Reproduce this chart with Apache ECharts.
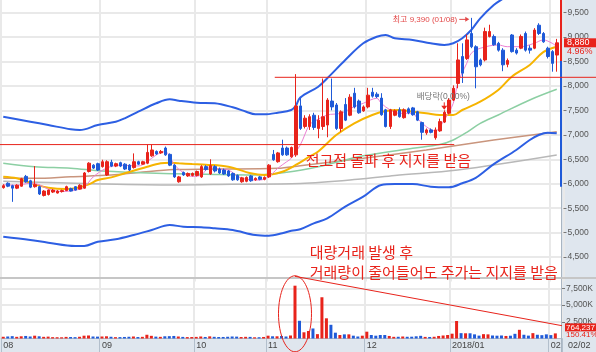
<!DOCTYPE html>
<html><head><meta charset="utf-8"><title>chart</title>
<script src="https://cdn.jsdelivr.net/npm/echarts@6.0.0/dist/echarts.min.js"></script>
<style>html,body{margin:0;padding:0;background:#fff;}#chart{width:596px;height:352px;}</style>
</head><body><div id="chart"></div>
<script>
// ---------- categories (trading days) ----------
const augDays=[1,2,3,4,7,8,9,10,11,14,16,17,18,21,22,23,24,25,28,29,30,31];
const sepDays=[1,4,5,6,7,8,11,12,13,14,15,18,19,20,21,22,25,26,27,28,29];
const octDays=[10,11,12,13,16,17,18,19,20,23,24,25,26,27,30,31];
const novDays=[1,2,3,6,7,8,9,10,13,14,15,16,17,20,21,22,23,24,27,28,29,30];
const decDays=[1,4,5,6,7,8,11,12,13,14,15,18,19,20,21,22,26,27,28];
const janDays=[2,3,4,5,8,9,10,11,12,15,16,17,18,19,22,23,24,25,26,29,30,31];
const febDays=[1,2];
const monthTickLabels={'2017/08':'08','2017/09':'09','2017/10':'10','2017/11':'11','2017/12':'12','2018/01':'2018/01','2018/02':'02'};

// ---------- price candles [open, close, low, high] ----------
const candles=[
[5920,5960,5900,5990],[6010,5950,5930,6030],[5960,5910,5630,5980],[5910,5970,5890,5990],[5950,6100,5940,6120],
[6150,6040,6020,6180],[6060,5930,5910,6080],[5940,5980,5920,6360],[5940,5790,5770,5960],[5760,5850,5740,5870],
[5780,5870,5760,5880],[5830,5870,5810,5890],[5810,5850,5800,5870],[5840,5860,5820,5880],[5860,5940,5850,5960],
[5900,5850,5840,5920],[5940,5870,5860,5950],[5890,5970,5880,5990],[5910,6220,5900,6240],[6250,6420,6230,6440],
[6380,6320,6300,6400],[6410,6280,6260,6430],
[6350,6450,6330,6490],[6180,6450,6160,6480],[6440,6360,6340,6490],[6360,6410,6340,6430],[6430,6360,6340,6450],
[6400,6300,6280,6420],[6380,6280,6260,6400],[6330,6450,6310,6620],[6450,6400,6380,6470],[6400,6450,6390,6470],
[6420,6640,6400,6800],[6570,6690,6550,6800],[6660,6610,6590,6680],[6630,6660,6610,6690],[6730,6590,6570,6760],
[6600,6380,6360,6620],[6380,6140,6120,6400],[6040,6140,6020,6160],[6230,6180,6160,6250],[6160,6210,6140,6230],
[6170,6210,6150,6230],
[6170,6250,6150,6270],[6140,6350,6120,6380],[6350,6290,6270,6380],[6200,6370,6180,6500],[6350,6260,6230,6380],
[6300,6220,6200,6330],[6280,6200,6180,6310],[6260,6160,6140,6280],[6210,6080,6060,6230],[6170,6080,6060,6190],
[6040,6120,6020,6140],[6050,6130,6030,6150],[6160,6060,6040,6180],[6080,6110,6060,6130],[6140,6090,6070,6160],
[6090,6130,6070,6150],
[6140,6380,6120,6400],[6600,6490,6470,6690],[6450,6630,6430,6650],[6730,6590,6570,6900],[6730,6590,6570,6760],
[6550,6740,6530,6760],[6590,7590,6550,8240],[7590,7130,7100,7750],[7170,7340,7130,7400],[7170,7370,7100,7420],
[7400,7150,7100,7450],[7130,7300,6930,7400],[7170,7370,7100,8150],[7200,7710,6950,7750],[7690,7570,7500,8150],
[7610,7130,7100,7650],[7130,7470,7060,7500],[7620,7300,7280,7750],[7400,7770,7380,7830],[7850,7570,7540,7960],
[7690,7450,7430,7720],[7490,7570,7470,7600],
[7570,7810,7540,7960],[7870,7790,7760,7960],[7830,7780,7750,7870],[7750,7410,7390,7850],[7510,7170,7150,7530],
[7170,7510,7120,7530],[7400,7490,7380,7520],[7510,7370,7350,7560],[7350,7510,7330,7540],[7530,7450,7420,7560],
[7550,7410,7390,7570],[7470,7300,7280,7490],[7250,7050,6900,7270],[7040,7100,7000,7130],[7100,7050,7030,7130],
[6940,7100,6900,7150],[7080,7270,7060,7330],[7260,7460,7240,7500],[7440,7710,7420,7750],
[7710,7950,7690,8010],[8050,8530,7950,8870],[8600,8260,8060,8870],[8560,8940,8530,9050],[9070,8800,8770,9390],
[8800,8390,7950,8830],[8530,8430,8400,8560],[8530,9110,8500,9190],[9010,9110,8990,9250],[9010,8840,8820,9050],
[8870,8730,8700,8900],[8730,8430,8300,8770],[8440,8520,8380,8560],[9040,8700,8680,9060],[8730,8670,8640,8770],
[8770,9010,8750,9050],[9070,8730,8700,9110],[8770,8730,8660,8830],[8770,9140,8750,9180],[9240,9070,9040,9280],
[9070,8900,8880,9100],[8770,8600,8560,8800],
[8700,8460,8290,8730],[8630,8880,8290,8960]
];

// ---------- volume (thousand shares) ----------
const volumesK=[
260,300,350,250,330,380,300,420,330,250, 280,200,190,180,240,220,200,260,420,450,
300,280,300,330,260,200,210,230,260,300, 220,250,560,400,280,250,330,350,380,300,
240,210,220,240,300,230,320,250,220,230, 260,300,280,220,250,240,180,190,230,420,
330,330,380,300,450,7900,2650,930,1120,1500, 650,6170,3020,2050,870,520,620,620,420,300,
420,1020,520,420,520,520,380,250,260,300, 260,270,330,400,240,230,260,380,450,520,
720,2620,800,780,780,620,430,650,620,450, 420,450,380,420,700,1300,560,430,800,560,
500,620,508.1,764.237
];

// ---------- indicator lines, [day index, price] ----------
const bbUpper=[[0,7370],[6,7268],[10,7200],[15,7113],[17,7098],[21,7200],[25,7268],[27,7337],[30,7472],[34,7644],[37,7726],[39,7697],[43,7656],[47,7644],[51,7562],[54,7472],[56,7419],[58,7419],[61,7452],[64,7507],[65,7590],[66,7760],[70,7983],[72,8155],[76,8529],[80,8870],[83,9005],[85,9040],[87,8973],[91,8938],[95,8870],[98,8836],[100,8870],[102,8973],[104,9142],[106,9381],[109,9653],[111,9780],[113,9900]];
const bbLower=[[0,4917],[6,4850],[10,4795],[16,4728],[18,4728],[21,4815],[25,4864],[29,4952],[33,5054],[37,5157],[40,5122],[44,5110],[47,5089],[51,5054],[56,4952],[59,4938],[62,4987],[64,5040],[66,5070],[69,5191],[72,5293],[76,5531],[80,5735],[84,5974],[87,5995],[91,5995],[95,5940],[99,5927],[102,6009],[105,6120],[109,6400],[114,6690],[117,6894],[119,6996],[121,7043],[123,7031]];
const ma5=[[0,5980],[3,5970],[6,6010],[8,5980],[10,5890],[13,5840],[16,5870],[18,5930],[20,6140],[23,6320],[26,6380],[30,6362],[32,6450],[34,6590],[36,6655],[37,6560],[38,6390],[40,6230],[42,6150],[44,6180],[46,6350],[48,6300],[50,6280],[53,6111],[57,6076],[59,6144],[61,6316],[63,6450],[64,6520],[66,6792],[68,7200],[69,7268],[72,7405],[75,7440],[78,7575],[80,7644],[83,7746],[84,7644],[86,7507],[88,7440],[91,7440],[92,7337],[94,7166],[96,7080],[98,7303],[100,7644],[101,8053],[103,8462],[104,8666],[106,8768],[110,8836],[112,8801],[115,8801],[118,8870],[120,8938],[122,8870],[123,8801]];
const ma20=[[0,6144],[3,6111],[7,5988],[10,5919],[14,5892],[16,5907],[19,5988],[21,6076],[24,6130],[27,6213],[32,6348],[35,6418],[37,6430],[39,6418],[42,6403],[45,6390],[50,6348],[55,6213],[58,6179],[62,6246],[65,6383],[68,6553],[70,6660],[74,6996],[78,7235],[82,7405],[85,7487],[88,7507],[91,7472],[94,7440],[97,7405],[100,7405],[102,7507],[106,7677],[110,7916],[113,8188],[117,8427],[120,8690],[123,8800]];
const ma60=[[0,6418],[7,6348],[15,6316],[22,6260],[34,6213],[45,6193],[56,6179],[63,6234],[70,6348],[80,6570],[91,6724],[97,6800],[100,6894],[103,7050],[106,7235],[110,7405],[117,7712],[123,7930]];
const ma120=[[0,6111],[7,6111],[15,6144],[24,6179],[30,6230],[38,6290],[47,6300],[61,6316],[66,6370],[80,6520],[94,6690],[109,6894],[123,7064]];
const ma240=[[0,6050],[20,6000],[38,5974],[51,5988],[66,6005],[80,6100],[87,6170],[101,6281],[123,6587]];

// ---------- annotation values ----------
const prevHighLevel=6800, prevHighEndIdx=100;
const breakoutLevel=8175, breakoutStartIdx=60;
const spikeIdx=65, volTrendStartK=9300, volTrendEndK=2100;
const peakIdx=104, peakPrice=9390, peakLabel='최고 9,390 (01/08)';
const exDivIdx=98, exDivLabel='배당락(0.00%)';
const rangeTop=9755, rangeMid=8509, rangeLow=5940;
const note1='전고점 돌파 후 지지를 받음', note1Price=6485;
const note2='대량거래 발생 후', note2Price=4590;
const note3='거래량이 줄어들어도 주가는 지지를 받음', note3Price=4200;
const lastDateLabel='02/02';

// ---------- build ----------
const dates=[], monthStart=[];
[['2017','08',augDays],['2017','09',sepDays],['2017','10',octDays],['2017','11',novDays],['2017','12',decDays],['2018','01',janDays],['2018','02',febDays]]
.forEach(([y,m,days])=>days.forEach((d,k)=>{dates.push(y+'/'+m+'/'+String(d).padStart(2,'0'));monthStart.push(k===0);}));
const axisCats=dates.concat(['']); monthStart.push(false);

const RED='#e8231b', BLUE='#1f5ad8';
const SANS="'Liberation Sans',Arial,sans-serif";
const KR_FONT="'Noto Sans CJK KR','Noto Sans',sans-serif";
const isMonth=(i)=>!!monthStart[i];
const gridColor='#e9e9e9';

function lineSeries(data,color,width){
  return {type:'line',xAxisIndex:0,yAxisIndex:0,data:data,smooth:0.35,showSymbol:false,symbol:'none',silent:true,z:2,
    lineStyle:{color:color,width:width}};
}

const chart=echarts.init(document.getElementById('chart'),null,{renderer:'canvas'});
const option={
  animation:false,
  backgroundColor:'#ffffff',
  grid:[{left:1,top:0,width:562.5,height:281.6},{left:1,top:278,width:562.5,height:60.5}],
  xAxis:[
    {type:'category',gridIndex:0,data:axisCats,boundaryGap:true,axisLine:{show:false},axisTick:{show:false},axisLabel:{show:false},
     splitLine:{show:true,interval:isMonth,lineStyle:{color:gridColor,width:2}}},
    {type:'category',gridIndex:1,data:axisCats,boundaryGap:true,
     axisLine:{show:true,lineStyle:{color:'#b3bfcc',width:1}},
     axisTick:{show:true,interval:isMonth,length:14,lineStyle:{color:'#b3bfcc'}},
     axisLabel:{show:true,interval:isMonth,align:'left',margin:3,fontSize:9,color:'#444',fontFamily:SANS,
       formatter:(v,i)=>monthStart[i]?(monthTickLabels[v.slice(0,7)]||''):''},
     splitLine:{show:true,interval:isMonth,lineStyle:{color:gridColor,width:2}}}
  ],
  yAxis:[
    {type:'value',gridIndex:0,position:'right',min:4000,max:rangeTop,interval:500,
     axisLine:{show:false},axisTick:{show:true,length:3,lineStyle:{color:'#777'}},
     axisLabel:{showMinLabel:false,showMaxLabel:false,margin:4,fontSize:8.5,color:'#555',fontFamily:SANS,
       formatter:(v)=>v.toLocaleString('en-US')},
     splitLine:{show:true,showMinLine:false,showMaxLine:false,lineStyle:{color:gridColor,width:2}}},
    {type:'value',gridIndex:1,position:'right',min:0,max:9050,interval:2500,
     axisLine:{show:false},axisTick:{show:true,length:3,lineStyle:{color:'#777'}},
     axisLabel:{showMinLabel:false,showMaxLabel:false,margin:4,fontSize:8.5,color:'#555',fontFamily:SANS,
       formatter:(v)=>v.toLocaleString('en-US')+'K'},
     splitLine:{show:true,showMinLine:false,showMaxLine:false,lineStyle:{color:gridColor,width:2}}}
  ],
  series:[
    lineSeries(ma240,'#b8b8b8',1.5),
    lineSeries(ma120,'#c9957d',1.5),
    lineSeries(ma60,'#8ccfa3',1.5),
    lineSeries(bbUpper,'#2d5fe3',2),
    lineSeries(bbLower,'#2d5fe3',2),
    lineSeries(ma20,'#f6b400',2),
    lineSeries(ma5,'#ec7fd3',1),
    {type:'candlestick',xAxisIndex:0,yAxisIndex:0,data:candles,barWidth:3,z:3,silent:true,
     itemStyle:{color:RED,color0:BLUE,borderColor:RED,borderColor0:BLUE,borderWidth:1}},
    {type:'bar',xAxisIndex:1,yAxisIndex:1,data:volumesK,barWidth:3,silent:true,z:3,
     itemStyle:{color:(p)=>candles[p.dataIndex][1]>=candles[p.dataIndex][0]?RED:BLUE}}
  ]
};
chart.setOption(option);

// ---------- annotations placed through the axes ----------
const P=(i,v)=>chart.convertToPixel({xAxisIndex:0,yAxisIndex:0},[i,v]);
const V=(i,v)=>chart.convertToPixel({xAxisIndex:1,yAxisIndex:1},[i,v]);
const els=[];
const W=596,H=352, colX=562, stripY=339;
els.push({type:'rect',z:-10,silent:true,shape:{x:colX,y:0,width:W-colX,height:H},style:{fill:'#dfe6ee'}});
els.push({type:'rect',z:-10,silent:true,shape:{x:0,y:stripY,width:colX,height:H-stripY},style:{fill:'#dfe6ee'}});
els.push({type:'line',z:5,silent:true,shape:{x1:colX-0.5,y1:0,x2:colX-0.5,y2:H},style:{stroke:'#a9b5c2',lineWidth:1}});
const sepY=V(0,9050)[1];
els.push({type:'line',z:5,silent:true,shape:{x1:0,y1:sepY,x2:W,y2:sepY},style:{stroke:'#c6c6c6',lineWidth:2}});
// price range indicator on axis edge
const yTop=P(0,rangeTop)[1], yMid=P(0,rangeMid)[1], yLow=P(0,rangeLow)[1];
els.push({type:'line',z:6,silent:true,shape:{x1:colX-1,y1:yTop,x2:colX-1,y2:yMid},style:{stroke:RED,lineWidth:2}});
els.push({type:'line',z:6,silent:true,shape:{x1:colX-1,y1:yMid,x2:colX-1,y2:yLow},style:{stroke:BLUE,lineWidth:2}});
// previous-high line
const phY=P(0,prevHighLevel)[1];
els.push({type:'line',z:10,silent:true,shape:{x1:0,y1:phY,x2:P(prevHighEndIdx,0)[0]+1,y2:phY},style:{stroke:RED,lineWidth:1}});
// breakout line
const boY=P(0,breakoutLevel)[1];
els.push({type:'line',z:10,silent:true,shape:{x1:P(breakoutStartIdx,0)[0]+1.5,y1:boY,x2:W,y2:boY},style:{stroke:RED,lineWidth:1}});
// volume trend line
const a=V(spikeIdx,volTrendStartK), b=V(candles.length-1,volTrendEndK);
const t=(colX-a[0])/(b[0]-a[0]);
els.push({type:'line',z:10,silent:true,shape:{x1:a[0],y1:a[1],x2:colX,y2:a[1]+(b[1]-a[1])*t},style:{stroke:RED,lineWidth:1}});
// ellipse round the spike volume
const ec=V(spikeIdx,3700);
els.push({type:'ellipse',z:10,silent:true,shape:{cx:ec[0],cy:ec[1],rx:16.5,ry:38},style:{fill:'none',stroke:RED,lineWidth:1}});
// notes
const nx=P(67,0)[0]+1;
els.push({type:'text',z:11,silent:true,x:nx,y:P(0,note1Price)[1],style:{text:note1,fill:RED,font:'15px '+KR_FONT,verticalAlign:'middle',align:'left'}});
els.push({type:'text',z:11,silent:true,x:nx+4,y:P(0,note2Price)[1],style:{text:note2,fill:RED,font:'15px '+KR_FONT,verticalAlign:'middle',align:'left'}});
els.push({type:'text',z:11,silent:true,x:nx+4,y:P(0,note3Price)[1],style:{text:note3,fill:RED,font:'15px '+KR_FONT,verticalAlign:'middle',align:'left'}});
// peak label
const pk=P(peakIdx,peakPrice);
els.push({type:'text',z:11,silent:true,x:pk[0]-14,y:pk[1]+1.5,style:{text:peakLabel,fill:'#e34848',font:'8px '+SANS+','+KR_FONT,verticalAlign:'middle',align:'right'}});
els.push({type:'line',z:11,silent:true,shape:{x1:pk[0]-12,y1:pk[1]+1.5,x2:pk[0]-5,y2:pk[1]+1.5},style:{stroke:'#e34848',lineWidth:1}});
els.push({type:'polygon',z:11,silent:true,shape:{points:[[pk[0]-6,pk[1]-1],[pk[0]-2,pk[1]+1.5],[pk[0]-6,pk[1]+4]]},style:{fill:'#e34848'}});
// ex-dividend marker
const ed=P(exDivIdx,candles[exDivIdx][3]);
els.push({type:'text',z:11,silent:true,x:ed[0]-1,y:ed[1]-14,style:{text:exDivLabel,fill:'#777',font:'8.5px '+SANS+','+KR_FONT,verticalAlign:'middle',align:'center'}});
els.push({type:'line',z:11,silent:true,shape:{x1:ed[0],y1:ed[1]-8,x2:ed[0],y2:ed[1]-4},style:{stroke:RED,lineWidth:1}});
els.push({type:'polygon',z:11,silent:true,shape:{points:[[ed[0]-3,ed[1]-4.5],[ed[0]+3,ed[1]-4.5],[ed[0],ed[1]-0.5]]},style:{fill:RED}});
// last price box
const n=candles.length, lastC=candles[n-1][1], prevC=candles[n-2][1];
const lcY=P(0,lastC)[1];
els.push({type:'rect',z:12,silent:true,shape:{x:colX+2,y:lcY-4.5,width:W-colX-2,height:9},style:{fill:RED}});
els.push({type:'text',z:13,silent:true,x:colX+5,y:lcY,style:{text:lastC.toLocaleString('en-US'),fill:'#fff',font:'9px '+SANS,verticalAlign:'middle'}});
els.push({type:'text',z:13,silent:true,x:colX+5,y:lcY+8.5,style:{text:((lastC/prevC-1)*100).toFixed(2)+'%',fill:RED,font:'9px '+SANS,verticalAlign:'middle'}});
// last volume box
const lv=volumesK[n-1], pv=volumesK[n-2];
const lvY=V(0,lv)[1];
els.push({type:'rect',z:12,silent:true,shape:{x:colX+3,y:lvY-10,width:W-colX-3,height:8},style:{fill:RED}});
els.push({type:'text',z:13,silent:true,x:colX+4,y:lvY-6,style:{text:Math.round(lv*1000).toLocaleString('en-US'),fill:'#fff',font:'8px '+SANS,verticalAlign:'middle'}});
els.push({type:'text',z:13,silent:true,x:colX+4,y:lvY+1.5,style:{text:(lv/pv*100).toFixed(2)+'%',fill:RED,font:'8px '+SANS,verticalAlign:'middle'}});
// last date
els.push({type:'text',z:13,silent:true,x:colX+6,y:(stripY+H)/2+0.5,style:{text:lastDateLabel,fill:'#444',font:'9px '+SANS,verticalAlign:'middle'}});
chart.setOption({graphic:{elements:els}});
</script></body></html>
